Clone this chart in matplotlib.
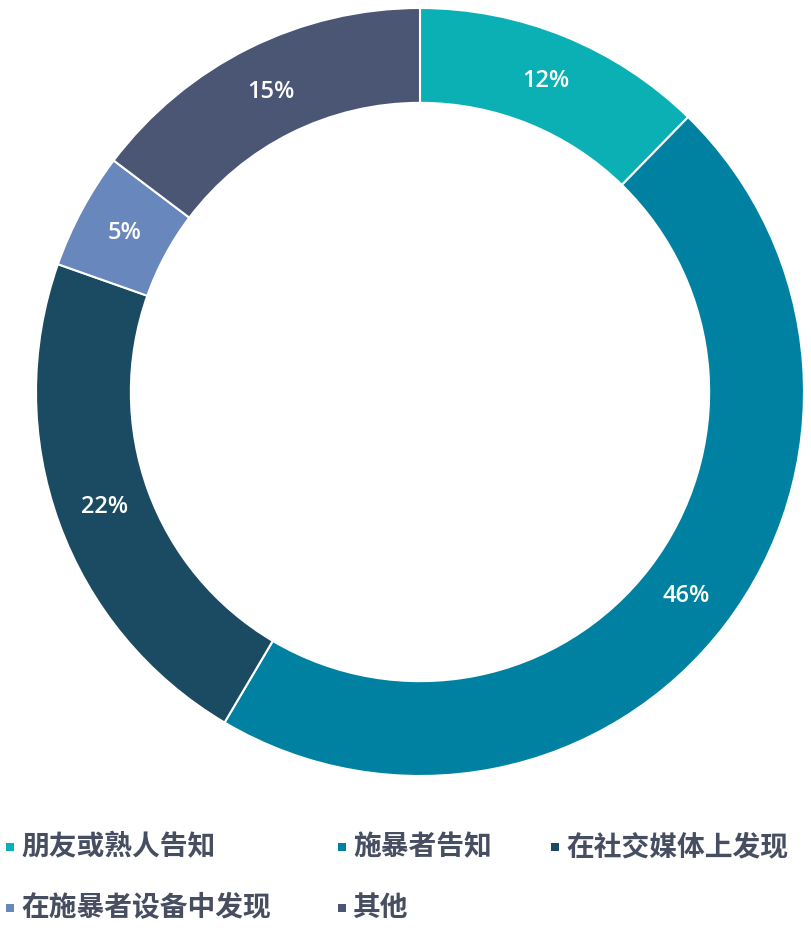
import matplotlib
matplotlib.use("Agg")
import matplotlib.pyplot as plt

plt.rcParams['font.family'] = ['Noto Sans CJK SC', 'DejaVu Sans']

categories = ["朋友或熟人告知", "施暴者告知", "在社交媒体上发现", "在施暴者设备中发现", "其他"]
values = [12.3, 46.2, 21.9, 4.9, 14.7]
colors = ["#0BB0B5", "#0181A1", "#1A4B63", "#6787BD", "#4A5673"]

W, H = 811, 946
fig = plt.figure(figsize=(W / 100, H / 100), dpi=100)

cx, cy, R = 420, 392, 384
ax = fig.add_axes([(cx - R) / W, (H - cy - R) / H, 2 * R / W, 2 * R / H])
wedges, texts, autotexts = ax.pie(
    values, colors=colors, startangle=90, counterclock=False, radius=1.0,
    wedgeprops=dict(width=0.247, edgecolor="white", linewidth=1.5),
    autopct=lambda p: f"{p:.0f}%", pctdistance=0.873,
    textprops=dict(color="white", fontsize=17, family=["Open Sans", "DejaVu Sans"]),
)
for t in autotexts:
    t.set_fontweight("semibold")
ax.set_xlim(-1, 1)
ax.set_ylim(-1, 1)
ax.set_aspect("equal")
ax.axis("off")

# legend drawn in pixel coordinates
lax = fig.add_axes([0, 0, 1, 1])
lax.set_xlim(0, W)
lax.set_ylim(H, 0)
lax.axis("off")
positions = [(10, 847), (342, 847), (555, 847), (10, 908), (342, 908)]
for (x, y), c, lab in zip(positions, colors, categories):
    lax.scatter([x], [y], marker="s", s=40, color=c, linewidths=0)
    lax.text(x + 11, y, lab, fontsize=20, fontweight="bold", color="#474E62",
             va="center", ha="left")

fig.savefig("out.png", dpi=100)
